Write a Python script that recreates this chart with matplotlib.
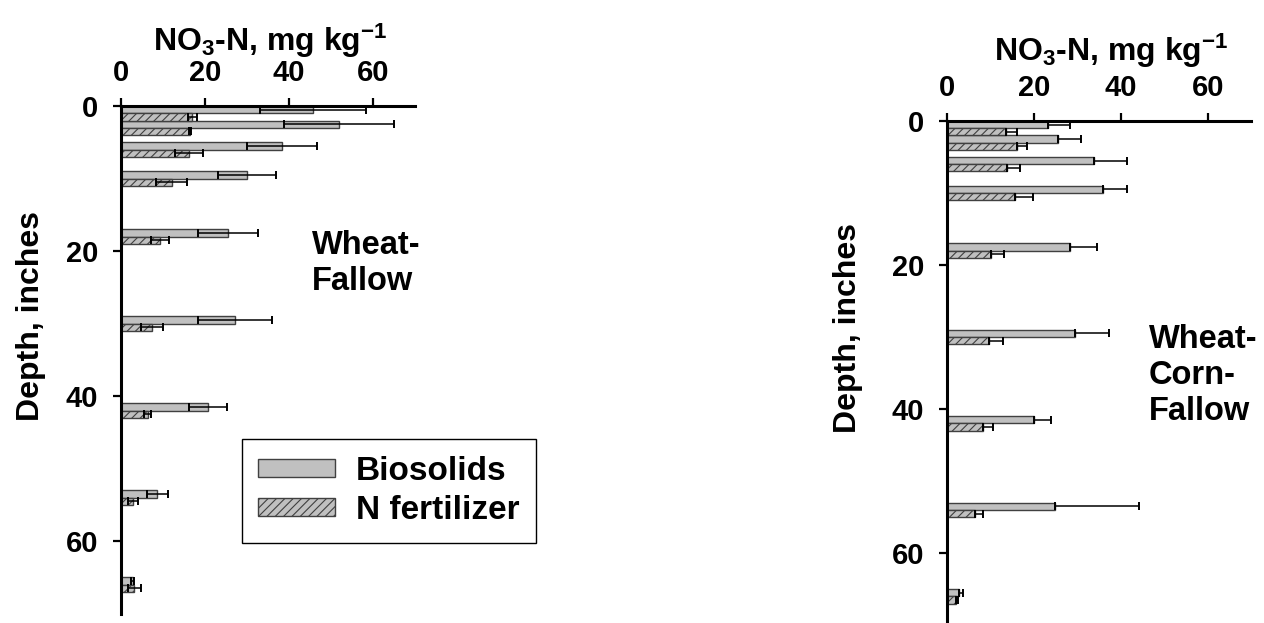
import numpy as np
import matplotlib
matplotlib.use('Agg')
from matplotlib import pyplot as plt

### Data
# Mid-depth of each sampling interval (inches)
depth = [1, 3, 6, 10, 18, 30, 42, 54, 66]

# Wheat-Fallow (left panel)
wf_bio = [45.7, 51.9, 38.3, 30.0, 25.5, 27.1, 20.8, 8.6, 2.8]
wf_bio_err = [12.7, 13.0, 8.4, 7.0, 7.2, 8.8, 4.5, 2.5, 0.4]
wf_nfert = [17.0, 16.4, 16.2, 12.1, 9.3, 7.3, 6.4, 2.9, 3.2]
wf_nfert_err = [1.0, 0.3, 3.3, 3.7, 2.2, 2.6, 0.8, 1.2, 1.5]

# Wheat-Corn-Fallow (right panel)
wcf_bio = [23.2, 25.5, 33.8, 35.9, 28.3, 29.4, 20.0, 24.8, 2.8]
wcf_bio_err = [5.1, 5.2, 7.6, 5.5, 6.2, 7.8, 3.9, 19.3, 0.9]
wcf_nfert = [13.6, 16.1, 13.8, 15.6, 10.1, 9.7, 8.3, 6.4, 2.0]
wcf_nfert_err = [2.5, 2.3, 3.0, 4.1, 3.0, 3.2, 2.3, 1.9, 0.6]

x_ticks = [0, 20, 40, 60]
y_ticks = [0, 20, 40, 60]

# ----------------------------------------------------------------------------

plt.rcParams['font.family'] = ['Liberation Sans', 'DejaVu Sans']
plt.rcParams['font.weight'] = 'bold'
plt.rcParams['mathtext.fontset'] = 'custom'
plt.rcParams['mathtext.bf'] = 'Liberation Sans:bold'
plt.rcParams['mathtext.rm'] = 'Liberation Sans:bold'
plt.rcParams['mathtext.default'] = 'bf'
plt.rcParams['hatch.color'] = '#2a2a2a'
plt.rcParams['hatch.linewidth'] = 0.8

bar_fill = '#c0c0c0'
bar_edge = '#404040'
xlabel = r'NO$_3$-N, mg kg$^{-1}$'


def depth_panel(ax, bio, bio_err, nfert, nfert_err, two_sided, ylim_bottom):
	""" Draw one horizontal bar panel of nitrate against depth.
	"""
	d = np.array(depth, dtype=float)
	ax.barh(d - 0.5, bio, height=1.0, color=bar_fill, edgecolor=bar_edge,
			linewidth=1.0, label='Biosolids', zorder=2)
	ax.barh(d + 0.5, nfert, height=1.0, color=bar_fill, edgecolor=bar_edge,
			linewidth=1.0, hatch='////', label='N fertilizer', zorder=2)

	if two_sided:
		e1 = bio_err
		e2 = nfert_err
	else:
		e1 = [np.zeros(len(bio_err)), bio_err]
		e2 = [np.zeros(len(nfert_err)), nfert_err]
	ax.errorbar(bio, d - 0.5, xerr=e1, fmt='none', ecolor='black',
				elinewidth=1.1, capsize=2.6, capthick=1.4, zorder=3)
	ax.errorbar(nfert, d + 0.5, xerr=e2, fmt='none', ecolor='black',
				elinewidth=1.1, capsize=2.6, capthick=1.4, zorder=3)

	ax.set_xlim(0, 70)
	ax.set_ylim(ylim_bottom, 0)
	ax.set_xticks(x_ticks)
	ax.set_yticks(y_ticks)

	for s in ['bottom', 'right']:
		ax.spines[s].set_visible(False)
	for s in ['top', 'left']:
		ax.spines[s].set_linewidth(2.2)

	ax.xaxis.tick_top()
	ax.xaxis.set_label_position('top')
	ax.tick_params(axis='x', direction='out', length=6, width=1.6,
				   pad=8, labelsize=21)
	ax.tick_params(axis='y', direction='out', length=6, width=1.6,
				   pad=10.5, labelsize=21)
	for lab in ax.get_xticklabels() + ax.get_yticklabels():
		lab.set_fontweight('bold')

	ax.set_xlabel(xlabel, fontsize=23, fontweight='bold')
	ax.set_ylabel('Depth, inches', fontsize=23, fontweight='bold')
#def

# ----------------------------------------------------------------------------

fig = plt.figure(figsize=(12.64, 6.23), dpi=100)

ax1 = fig.add_axes([0.0957, 0.0152, 0.2326, 0.8146])
depth_panel(ax1, wf_bio, wf_bio_err, wf_nfert, wf_nfert_err, True, 70)
ax1.xaxis.set_label_coords(0.507, 1.108)
ax1.yaxis.set_label_coords(-0.255, 0.586)
ax1.text(45.5, 21.7, 'Wheat-\nFallow', fontsize=23.5, fontweight='bold',
		 ha='left', va='center')
leg = ax1.legend(loc='upper left', bbox_to_anchor=(0.41, 0.344),
				 borderaxespad=0, frameon=True, fancybox=False,
				 edgecolor='black', framealpha=1, handlelength=2.3,
				 handleheight=0.45, handletextpad=0.62, labelspacing=0.26,
				 borderpad=0.5, prop={'weight': 'bold', 'size': 24})
leg.get_frame().set_linewidth(1.0)

ax2 = fig.add_axes([0.7492, 0.0, 0.2409, 0.8058])
depth_panel(ax2, wcf_bio, wcf_bio_err, wcf_nfert, wcf_nfert_err, False, 69.7)
ax2.xaxis.set_label_coords(0.54, 1.12)
ax2.yaxis.set_label_coords(-0.276, 0.587)
ax2.text(46.4, 35.3, 'Wheat-\nCorn-\nFallow', fontsize=23.5, fontweight='bold',
		 ha='left', va='center')

fig.savefig('out.png', dpi=100)
